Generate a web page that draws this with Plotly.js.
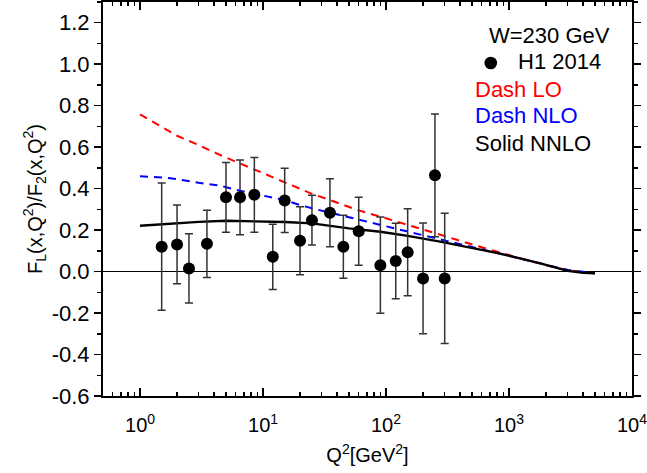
<!DOCTYPE html>
<html>
<head>
<meta charset="utf-8">
<script src="https://cdn.plot.ly/plotly-3.0.1.min.js"></script>
<style>html,body{margin:0;padding:0;background:#fff;}#chart{width:647px;height:473px;}</style>
</head>
<body>
<div id="chart"></div>
<script>
// H1 2014 data, W = 230 GeV
const q2Data = [1.5, 2, 2.5, 3.5, 5, 6.5, 8.5, 12, 15, 20, 25, 35, 45, 60, 90, 120, 150, 200, 250, 300];
const rData  = [0.12, 0.131, 0.015, 0.134, 0.358, 0.358, 0.37, 0.071, 0.343, 0.149, 0.248, 0.284, 0.12, 0.195, 0.031, 0.051, 0.093, -0.033, 0.464, -0.033];
const rErr   = [0.307, 0.19, 0.167, 0.162, 0.168, 0.18, 0.18, 0.157, 0.155, 0.164, 0.12, 0.164, 0.152, 0.164, 0.232, 0.182, 0.21, 0.267, 0.296, 0.314];

// LO curve
const q2LO = [1, 1.5, 2, 3, 4, 6, 9, 15, 20, 25, 35, 60, 100, 150, 300, 600, 1000, 1500, 2500, 4000, 5000];
const rLO  = [0.758, 0.698, 0.655, 0.61, 0.575, 0.53, 0.487, 0.43, 0.40, 0.375, 0.345, 0.295, 0.257, 0.225, 0.17, 0.117, 0.08, 0.05, 0.016, -0.004, -0.008];

// NLO curve
const q2NLO = [1, 1.5, 2, 3, 4.5, 6.5, 9.5, 15, 20, 25, 37, 58, 90, 200, 300, 500, 1000, 2000, 3000, 5000];
const rNLO  = [0.46, 0.454, 0.446, 0.428, 0.414, 0.39, 0.369, 0.345, 0.321, 0.305, 0.281, 0.252, 0.224, 0.175, 0.15, 0.118, 0.075, 0.032, 0.008, -0.008];

// NNLO curve
const q2NNLO = [1, 1.5, 3, 5, 10, 15, 25, 35, 50, 90, 150, 275, 500, 830, 1200, 1800, 3000, 4000, 5000];
const rNNLO  = [0.221, 0.229, 0.24, 0.245, 0.243, 0.239, 0.232, 0.219, 0.208, 0.192, 0.172, 0.144, 0.115, 0.088, 0.065, 0.04, 0.004, -0.006, -0.009];

// axis ticks
const xTickVals = [1, 10, 100, 1000, 10000];
const xTickText = ['10<sup>0</sup>', '10<sup>1</sup>', '10<sup>2</sup>', '10<sup>3</sup>', '10<sup>4</sup>'];
const yTickVals = [-0.6, -0.4, -0.2, 0.0, 0.2, 0.4, 0.6, 0.8, 1.0, 1.2];
const yTickText = ['-0.6', '-0.4', '-0.2', '0.0', '0.2', '0.4', '0.6', '0.8', '1.0', '1.2'];

const FONT = 'Liberation Sans, Arial, sans-serif';

const traces = [
  {x: q2LO, y: rLO, mode: 'lines', line: {color: '#ff0000', width: 2, dash: '8px,6px'}, hoverinfo: 'skip'},
  {x: q2NLO, y: rNLO, mode: 'lines', line: {color: '#0000ff', width: 2, dash: '8px,6px'}, hoverinfo: 'skip'},
  {x: q2NNLO, y: rNNLO, mode: 'lines', line: {color: '#000000', width: 2.3}, hoverinfo: 'skip'},
  {x: q2Data, y: rData, mode: 'markers', marker: {color: '#000', size: 12},
   error_y: {type: 'data', array: rErr, visible: true, color: '#333', thickness: 1.5, width: 4}}
];

const layout = {
  width: 647, height: 473,
  margin: {l: 103, r: 15, t: 2, b: 77},
  paper_bgcolor: '#fff', plot_bgcolor: '#fff',
  showlegend: false,
  font: {family: FONT, color: '#000', size: 20},
  xaxis: {
    type: 'log', range: [Math.log10(0.5), 4],
    tickvals: xTickVals, ticktext: xTickText,
    ticks: 'inside', ticklen: 8, tickwidth: 1.5, tickcolor: '#000',
    minor: {dtick: 'D1', ticks: 'inside', ticklen: 4, tickwidth: 1.5, tickcolor: '#000', showgrid: false},
    showline: true, linewidth: 2, linecolor: '#000', mirror: 'ticks',
    showgrid: false, zeroline: false,
    ticklabeloverflow: 'allow', ticklabelstandoff: 10,
    tickfont: {family: FONT, size: 20},
    title: {text: 'Q<sup>2</sup>[GeV<sup>2</sup>]', font: {family: FONT, size: 20}, standoff: 13}
  },
  yaxis: {
    range: [-0.6, 1.3],
    tickvals: yTickVals, ticktext: yTickText,
    ticks: 'outside', ticklen: 7, tickwidth: 1.5, tickcolor: '#000',
    minor: {dtick: 0.1, ticks: 'outside', ticklen: 4, tickwidth: 1.5, tickcolor: '#000', showgrid: false},
    showline: true, linewidth: 2, linecolor: '#000', mirror: 'ticks',
    showgrid: false, zeroline: true, zerolinecolor: '#000', zerolinewidth: 1,
    tickfont: {family: FONT, size: 22},
    title: {text: 'F<sub>L</sub>(x,Q<sup>2</sup>)/F<sub>2</sub>(x,Q<sup>2</sup>)', font: {family: FONT, size: 20}, standoff: 4}
  },
  shapes: [
    {type: 'circle', xref: 'paper', yref: 'paper', x0: 0.721, x1: 0.745, y0: 0.829, y1: 0.861,
     fillcolor: '#000', line: {color: '#000', width: 0}}
  ],
  annotations: [
    {xref: 'paper', yref: 'paper', x: 0.962, y: 0.916, xanchor: 'right', yanchor: 'middle', showarrow: false,
     text: 'W=230 GeV', font: {family: FONT, size: 22, color: '#000'}},
    {xref: 'paper', yref: 'paper', x: 0.945, y: 0.848, xanchor: 'right', yanchor: 'middle', showarrow: false,
     text: 'H1 2014', font: {family: FONT, size: 22, color: '#000'}},
    {xref: 'paper', yref: 'paper', x: 0.699, y: 0.779, xanchor: 'left', yanchor: 'middle', showarrow: false,
     text: 'Dash LO', font: {family: FONT, size: 22, color: '#ff0000'}},
    {xref: 'paper', yref: 'paper', x: 0.699, y: 0.711, xanchor: 'left', yanchor: 'middle', showarrow: false,
     text: 'Dash NLO', font: {family: FONT, size: 22, color: '#0000ff'}},
    {xref: 'paper', yref: 'paper', x: 0.699, y: 0.640, xanchor: 'left', yanchor: 'middle', showarrow: false,
     text: 'Solid NNLO', font: {family: FONT, size: 22, color: '#000'}}
  ]
};

Plotly.newPlot('chart', traces, layout, {staticPlot: true, displayModeBar: false});
</script>
</body>
</html>
